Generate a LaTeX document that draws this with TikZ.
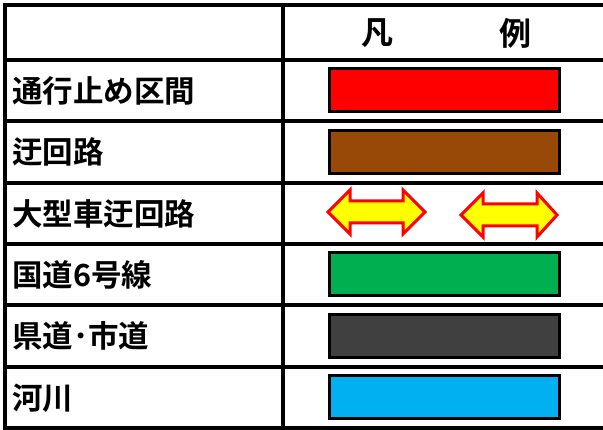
\documentclass[tikz,border=0pt]{standalone}
\usepackage{fontspec}
\newfontfamily\cjk{Noto Sans CJK JP}[BoldFont={Noto Sans CJK JP Bold}]
\definecolor{lgred}{HTML}{FF0000}
\definecolor{lgbrown}{HTML}{984807}
\definecolor{lggreen}{HTML}{00B050}
\definecolor{lggray}{HTML}{404040}
\definecolor{lgblue}{HTML}{00B0F0}
\definecolor{lgyellow}{HTML}{FFFF00}
\begin{document}
\begin{tikzpicture}[x=1pt,y=-1pt,
  gridline/.style={line width=3.5pt,black},
  rowlabel/.style={anchor=west,inner sep=0pt,font=\cjk\bfseries\fontsize{30.5}{30.5}\selectfont},
  headlabel/.style={anchor=center,inner sep=0pt,font=\cjk\bfseries\fontsize{32}{32}\selectfont},
  swatch/.style={draw=black,line width=3pt,minimum width=230pt,minimum height=43pt,inner sep=0pt},
  dblarrow/.style={draw=lgred,fill=lgyellow,line width=3pt,line join=miter}]
\useasboundingbox (0,0) rectangle (603,430);
% grid
\draw[gridline] (5,3.25) -- (5,430);
\draw[gridline] (283,3.25) -- (283,430);
\foreach \yy in {5,60,121,183,244,305,367,428}
  \draw[gridline] (3.25,\yy) -- (603,\yy);
% header
\node[headlabel] (h1) at (377,33) {凡};
\node[headlabel] (h2) at (515,33) {例};
% row labels
\node[rowlabel] (l1) at (12,91) {通行止め区間};
\node[rowlabel] (l2) at (12,152) {迂回路};
\node[rowlabel] (l3) at (12,214) {大型車迂回路};
\node[rowlabel] (l4) at (12,275) {国道6号線};
\node[rowlabel] (l5) at (12,336) {県道･市道};
\node[rowlabel] (l6) at (12,398) {河川};
% swatches
\node[swatch,fill=lgred]   (s1) at (444.5,90.5) {};
\node[swatch,fill=lgbrown] (s2) at (444.5,152) {};
\node[swatch,fill=lggreen] (s4) at (444.5,274.5) {};
\node[swatch,fill=lggray]  (s5) at (444.5,336.5) {};
\node[swatch,fill=lgblue]  (s6) at (444.5,397.5) {};
% double arrows
\draw[dblarrow] (328,212) -- (350,190) -- (350,201) -- (403,201) -- (403,190) -- (425,212)
  -- (403,234) -- (403,223) -- (350,223) -- (350,234) -- cycle;
\draw[dblarrow] (461,215) -- (483,193) -- (483,204) -- (537,204) -- (537,193) -- (557,215)
  -- (537,237) -- (537,226) -- (483,226) -- (483,237) -- cycle;
\end{tikzpicture}
\end{document}
